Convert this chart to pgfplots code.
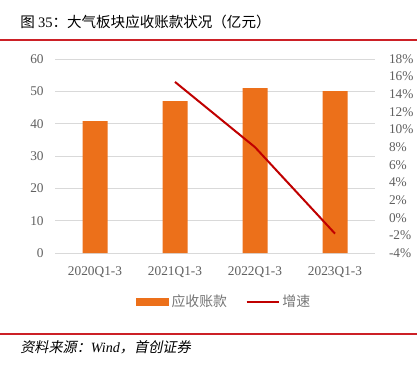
\documentclass[border=0pt]{standalone}
\usepackage{pgfplots}
\pgfplotsset{compat=1.18}
\usepackage{fontspec}
\setmainfont{Liberation Serif}
\newfontfamily\cjk{Noto Sans CJK SC}
\newfontfamily\cjkit[FakeSlant=0.2]{Noto Sans CJK SC}
\definecolor{barorange}{RGB}{236,112,26}
\definecolor{linered}{RGB}{192,0,0}
\definecolor{rulered}{RGB}{204,32,38}
\definecolor{tickgray}{RGB}{96,96,96}
\definecolor{leggray}{RGB}{118,118,118}
\definecolor{gridgray}{RGB}{217,217,217}
\begin{document}
\begin{tikzpicture}
\path[use as bounding box, fill=white] (0,0) rectangle (312.75pt,273.75pt);
\node[anchor=west, inner sep=0pt, font=\cjk\fontsize{10.9pt}{12pt}\selectfont] at (15pt,257.25pt) {图 {\rmfamily 35}：大气板块应收账款状况（亿元）};
\draw[rulered, line width=1.5pt] (0pt,244pt) -- (312.75pt,244pt);
\draw[rulered, line width=1pt] (0pt,23.25pt) -- (312.75pt,23.25pt);
\node[anchor=west, inner sep=0pt, font=\cjkit\fontsize{10.6pt}{12pt}\selectfont] at (15pt,13.5pt) {资料来源：{\rmfamily\itshape Wind}，首创证券};
\begin{axis}[
  at={(41.25pt,84pt)}, anchor=south west,
  scale only axis, width=240pt, height=145.5pt,
  xmin=-0.5, xmax=3.5, ymin=0, ymax=60,
  xtick={0,1,2,3}, xticklabels={2020Q1-3,2021Q1-3,2022Q1-3,2023Q1-3},
  ytick={0,10,...,60},
  ymajorgrids, grid style={gridgray, line width=0.75pt},
  axis line style={draw=none},
  tick style={draw=none},
  ticklabel style={font=\fontsize{10pt}{12pt}\selectfont, text=tickgray},
  /pgf/number format/assume math mode=true,
  yticklabel style={xshift=-5pt},
  xticklabel style={yshift=-2.5pt},
  ybar, bar width=18.75pt,
]
\addplot[fill=barorange, draw=none] coordinates {(0,40.8) (1,47.0) (2,51.0) (3,50.1)};
\end{axis}
\begin{axis}[
  at={(41.25pt,84pt)}, anchor=south west,
  scale only axis, width=240pt, height=145.5pt,
  xmin=-0.5, xmax=3.5, ymin=-4, ymax=18,
  xtick=\empty,
  ytick={-4,-2,...,18},
  yticklabels={-4\%,-2\%,0\%,2\%,4\%,6\%,8\%,10\%,12\%,14\%,16\%,18\%},
  axis y line*=right, axis x line=none,
  axis line style={draw=none},
  tick style={draw=none},
  ticklabel style={font=\fontsize{10pt}{12pt}\selectfont, text=tickgray},
  yticklabel style={xshift=7pt},
  legend style={at={(0.53,-0.2526)}, anchor=center, draw=none, fill=none,
    legend columns=2, font=\cjk\fontsize{10.4pt}{12pt}\selectfont, text=leggray,
    /tikz/every even column/.append style={column sep=12pt}},
]
\addlegendimage{legend image code/.code={\fill[barorange] (0pt,-2.75pt) rectangle (24pt,2.75pt);}}
\addlegendentry{应收账款}
\addplot[linered, line width=1.5pt, legend image code/.code={\draw[linered,line width=1.5pt] (0pt,0pt) -- (24pt,0pt);}] coordinates {(1,15.4) (2,8.0) (3,-1.8)};
\addlegendentry{增速}
\end{axis}
\end{tikzpicture}
\end{document}
